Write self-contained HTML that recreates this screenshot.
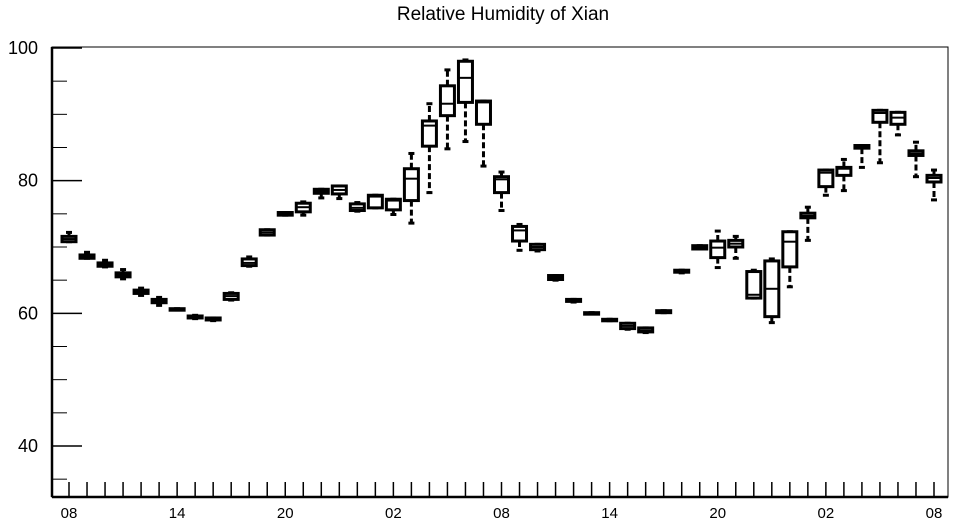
<!DOCTYPE html>
<html><head><meta charset="utf-8"><style>
body{margin:0;background:#fff;}
svg{display:block;font-family:"Liberation Sans",Arial,sans-serif;}
</style></head><body>
<svg id="chart" width="957" height="525" viewBox="0 0 957 525" xmlns="http://www.w3.org/2000/svg">
<text x="503" y="20" text-anchor="middle" font-size="19">Relative Humidity of Xian</text>
<g id="axes"></g>
<g id="boxes"></g>
</svg>
<script>
const hours = ["08","09","10","11","12","13","14","15","16","17","18","19","20","21","22","23","00","01","02","03","04","05","06","07","08","09","10","11","12","13","14","15","16","17","18","19","20","21","22","23","00","01","02","03","04","05","06","07","08"];
const q1 = [70.8,68.3,67.1,65.5,63.0,61.6,60.5,59.3,59.0,62.1,67.2,71.8,74.8,75.3,78.1,78.0,75.5,75.9,75.6,77.0,85.2,89.8,91.8,88.5,78.2,70.9,69.6,65.1,61.8,59.9,58.9,57.7,57.2,60.1,66.2,69.7,68.4,70.0,62.3,59.5,67.0,74.4,79.1,80.8,84.9,88.8,88.5,83.8,79.8];
const med = [71.2,68.6,67.4,65.8,63.2,61.8,60.6,59.4,59.1,62.6,67.6,72.2,75.0,76.0,78.4,78.6,75.9,77.6,77.0,80.3,88.3,91.6,95.5,91.8,80.2,72.5,70.0,65.4,61.9,60.0,59.0,58.1,57.4,60.2,66.3,69.9,69.9,70.5,62.8,63.7,70.8,74.7,81.2,81.8,85.1,90.2,89.5,84.1,80.4];
const q3 = [71.6,68.8,67.6,66.1,63.5,62.1,60.7,59.6,59.3,63.0,68.2,72.6,75.2,76.6,78.7,79.2,76.5,77.8,77.2,81.8,89.0,94.3,98.0,92.0,80.6,73.1,70.4,65.7,62.1,60.1,59.1,58.5,57.8,60.4,66.5,70.2,70.9,71.0,66.3,67.9,72.3,75.1,81.6,82.0,85.3,90.6,90.3,84.5,80.8];
const wmin = [70.8,68.3,67.0,65.2,62.7,61.2,60.5,59.2,58.9,62.0,67.1,71.8,74.8,74.8,77.4,77.3,75.4,75.9,74.9,73.6,78.2,84.8,85.9,82.2,75.5,69.5,69.4,65.0,61.7,59.9,58.9,57.6,57.1,60.1,66.1,69.7,66.9,68.3,62.3,58.6,64.0,71.0,77.8,78.5,82.0,82.7,86.9,80.6,77.1];
const wmax = [72.2,69.2,68.0,66.6,63.8,62.4,60.7,59.7,59.3,63.1,68.5,72.6,75.2,76.8,78.7,79.2,76.7,77.8,77.2,84.1,91.6,96.7,98.2,92.0,81.3,73.4,70.4,65.7,62.1,60.1,59.1,58.5,57.8,60.4,66.5,70.2,72.4,71.6,66.5,68.2,72.3,76.0,81.6,83.2,85.3,90.6,90.3,85.8,81.6];
const yMajor = [40,60,80,100];
const yMinor = [35,45,50,55,65,70,75,85,90,95];
const xLabelIdx = [0,6,12,18,24,30,36,42,48];

const NS="http://www.w3.org/2000/svg";
const L=52,R=948,T=47,B=497;
const x = i => 69 + i*(934-69)/48;
const y = v => 48 + (100-v)*(446-48)/60;
function mk(tag,attrs,parent){const e=document.createElementNS(NS,tag);for(const k in attrs)e.setAttribute(k,attrs[k]);parent.appendChild(e);return e;}
const ax=document.getElementById('axes');
const bx=document.getElementById('boxes');
let e;
e=mk('rect',{x:L,y:T,width:R-L,height:B-T,fill:'none',stroke:'#000','stroke-width':1},ax);


e=mk('line',{x1:L,y1:T,x2:L,y2:B,stroke:'#000','stroke-width':2.5},ax);


e=mk('line',{x1:L,y1:B,x2:R,y2:B,stroke:'#000','stroke-width':2.5},ax);


yMajor.forEach(v=>{
  e=mk('line',{x1:L,y1:y(v),x2:L+30,y2:y(v),stroke:'#000','stroke-width':1.5},ax);
  
  
  e=mk('text',{x:38,y:y(v)+6,'text-anchor':'end','font-size':18},ax);
  e.textContent=v;
  
  
});
yMinor.forEach(v=>{
  e=mk('line',{x1:L,y1:y(v),x2:L+15,y2:y(v),stroke:'#000','stroke-width':1},ax);
  
  
});
hours.forEach((h,i)=>{
  e=mk('line',{x1:x(i),y1:B,x2:x(i),y2:B-15,stroke:'#000','stroke-width':1.5},ax);
  
  
});
xLabelIdx.forEach(i=>{
  e=mk('text',{x:x(i),y:518,'text-anchor':'middle','font-size':15},ax);
  e.textContent=hours[i];
  
  
});
hours.forEach((h,i)=>{
  const g=mk('g',{},bx);
  
  
  const cx=x(i),w=14;
  e=mk('line',{x1:cx,y1:y(q3[i]),x2:cx,y2:y(wmax[i]),stroke:'#000','stroke-width':3,'stroke-dasharray':'6,3'},g);
  
  
  e=mk('line',{x1:cx,y1:y(q1[i]),x2:cx,y2:y(wmin[i]),stroke:'#000','stroke-width':3,'stroke-dasharray':'6,3'},g);
  
  
  e=mk('line',{x1:cx-3,y1:y(wmax[i]),x2:cx+3,y2:y(wmax[i]),stroke:'#000','stroke-width':3},g);
  
  
  e=mk('line',{x1:cx-3,y1:y(wmin[i]),x2:cx+3,y2:y(wmin[i]),stroke:'#000','stroke-width':3},g);
  
  
  const yt=y(q3[i]),yb=y(q1[i]);
  e=mk('rect',{x:cx-w/2,y:yt,width:w,height:Math.max(yb-yt,1.5),fill:'#fff',stroke:'#000','stroke-width':3},g);
  
  
  e=mk('line',{x1:cx-w/2,y1:y(med[i]),x2:cx+w/2,y2:y(med[i]),stroke:'#000','stroke-width':2},g);
  
  
});
</script>
</body></html>
